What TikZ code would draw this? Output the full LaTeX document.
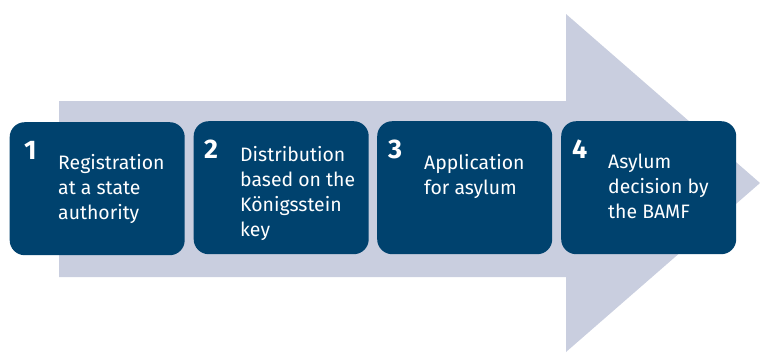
\documentclass[tikz,border=0pt]{standalone}
\usepackage{fontspec}
\setmainfont{Fira Sans}
\begin{document}
\begin{tikzpicture}[x=1bp,y=-1bp]
\definecolor{navy}{RGB}{0,66,110}
\definecolor{pale}{RGB}{201,206,223}
\tikzset{
  stepbox/.style={fill=navy, rounded corners=15bp, minimum width=175bp, minimum height=133bp, anchor=north west, inner sep=0pt},
  num/.style={text=white, font=\fontsize{27}{30}\selectfont\bfseries, anchor=base west, inner sep=0pt},
  lbl/.style={text=white, font=\fontsize{19.5}{25}\selectfont, align=left, anchor=base west, inner sep=0pt}
}
\useasboundingbox (0,0) rectangle (760,355);
\fill[pale] (59,101) -- (566,101) -- (566,14) -- (760,183) -- (566,352) -- (566,277) -- (59,277) -- cycle;
\node[stepbox] (b1) at (9.5,122) {};
\node[stepbox] (b2) at (193.5,121) {};
\node[stepbox] (b3) at (377,121) {};
\node[stepbox] (b4) at (561,121) {};
\node[num] (n1) at (24,159) {1};
\node[num] (n2) at (204,158) {2};
\node[num] (n3) at (388,158) {3};
\node[num] (n4) at (572,158) {4};
\node[lbl] (t1) at (58,219) {Registration\\at a state\\authority};
\node[lbl] (t2) at (240,236) {Distribution\\based on the\\Königsstein\\key};
\node[lbl] (t3) at (424,194) {Application\\for asylum};
\node[lbl] (t4) at (608,218) {Asylum\\decision by\\the BAMF};
\end{tikzpicture}
\end{document}
